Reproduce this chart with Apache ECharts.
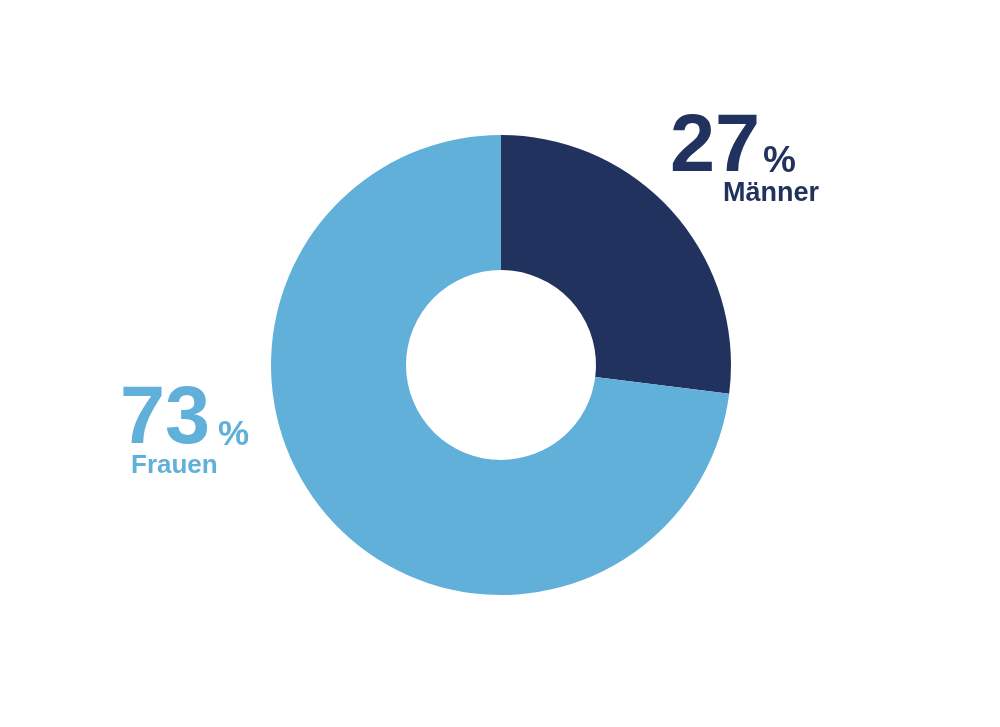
<!DOCTYPE html>
<html>
<head>
<meta charset="utf-8">
<script src="https://cdn.jsdelivr.net/npm/echarts@6/dist/echarts.min.js"></script>
<style>
  html, body { margin: 0; padding: 0; background: #fff; }
  #chart { width: 1000px; height: 727px; }
</style>
</head>
<body>
<div id="chart"></div>
<script>
// Geschlechterverteilung in Prozent
const categories = ['Männer', 'Frauen'];
const values = [27, 73];
const colors = ['#22325f', '#60b0d9'];

const FONT = '"Liberation Sans", Arial, Helvetica, sans-serif';

const chart = echarts.init(document.getElementById('chart'), null, { renderer: 'canvas' });

// Build one value label (big number, percent sign, category name) as a graphic group
function valueLabel(i, pos) {
  return {
    type: 'group',
    children: [
      {
        type: 'text',
        style: {
          text: String(values[i]),
          x: pos.numX, y: pos.numY,
          font: 'bold ' + pos.numSize + 'px ' + FONT,
          fill: colors[i],
          textAlign: 'left', textVerticalAlign: 'middle'
        }
      },
      {
        type: 'text',
        style: {
          text: '%',
          x: pos.pctX, y: pos.pctY,
          font: 'bold ' + pos.pctSize + 'px ' + FONT,
          fill: colors[i],
          textAlign: 'left', textVerticalAlign: 'middle'
        }
      },
      {
        type: 'text',
        style: {
          text: categories[i],
          x: pos.nameX, y: pos.nameY,
          font: 'bold ' + pos.nameSize + 'px ' + FONT,
          fill: colors[i],
          textAlign: 'left', textVerticalAlign: 'middle'
        }
      }
    ]
  };
}

chart.setOption({
  animation: false,
  backgroundColor: '#ffffff',
  series: [{
    type: 'pie',
    center: [501, 365],
    radius: [95, 230],
    startAngle: 90,
    clockwise: true,
    label: { show: false },
    labelLine: { show: false },
    emphasis: { disabled: true },
    itemStyle: { borderWidth: 0 },
    data: categories.map((name, i) => ({
      name,
      value: values[i],
      itemStyle: { color: colors[i] }
    }))
  }],
  graphic: [
    valueLabel(0, {
      numX: 670, numY: 149, numSize: 81,
      pctX: 763, pctY: 162, pctSize: 37,
      nameX: 723, nameY: 194, nameSize: 27
    }),
    valueLabel(1, {
      numX: 120, numY: 421, numSize: 81,
      pctX: 218, pctY: 435, pctSize: 35,
      nameX: 131, nameY: 466, nameSize: 26
    })
  ]
});
</script>
</body>
</html>
